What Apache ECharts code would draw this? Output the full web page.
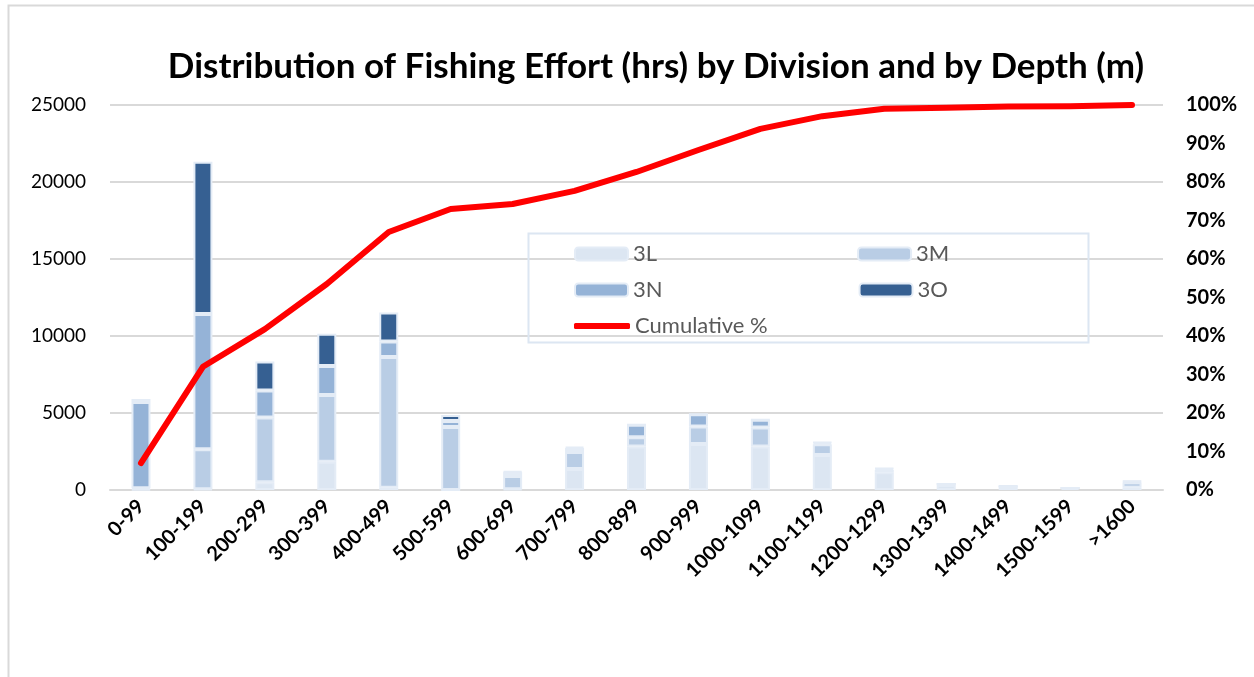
<!DOCTYPE html>
<html>
<head>
<meta charset="utf-8">
<script src="https://cdn.jsdelivr.net/npm/echarts@6/dist/echarts.min.js"></script>
<style>
  html, body { margin: 0; padding: 0; background: #fff; }
  #chart { width: 1254px; height: 677px; }
</style>
</head>
<body>
<div id="chart"></div>
<script>
// depth bands (m)
const depths = ['0-99', '100-199', '200-299', '300-399', '400-499', '500-599', '600-699', '700-799',
  '800-899', '900-999', '1000-1099', '1100-1199', '1200-1299', '1300-1399', '1400-1499', '1500-1599', '>1600']

// effort (hrs) by division
const div3L = [30, 50, 500, 1840, 150, 0, 50, 1365, 2820, 2990, 2820, 2275, 1150, 330, 210, 120, 150]
const div3M = [80, 2600, 4200, 4335, 8480, 4095, 860, 1105, 610, 1130, 1235, 700, 150, 60, 30, 10, 350]
const div3N = [5600, 8780, 1755, 1885, 1010, 390, 250, 260, 800, 800, 500, 100, 80, 0, 0, 0, 60]
const div3O = [200, 9880, 1885, 2080, 1885, 390, 50, 70, 0, 0, 0, 30, 30, 0, 0, 0, 20]

// cumulative share (0..1)
const cumulative = [0.07, 0.32, 0.418, 0.535, 0.67, 0.73, 0.743, 0.777, 0.826, 0.883, 0.938, 0.971, 0.99, 0.993, 0.996, 0.997, 1.0]

const FONT = 'Lato'
const chart = echarts.init(document.getElementById('chart'))

const barSeries = (name, data, color) => ({
  name: name,
  type: 'bar',
  stack: 'effort',
  barWidth: 19,
  data: data,
  itemStyle: { color: color, borderColor: '#e4ecf6', borderWidth: 2 },
  emphasis: { disabled: true }
})

// legend rows, laid out like the original two-column box
const legendRow = (top, data, gap, extra) => Object.assign({
  left: 569,
  top: top,
  itemWidth: 53,
  itemHeight: 13,
  itemGap: gap,
  selectedMode: false,
  textStyle: { fontFamily: FONT, fontSize: 22, color: '#595959' },
  data: data
}, extra || {})

const option = {
  animation: false,
  textStyle: { fontFamily: FONT },
  title: {
    // zero-width non-joiner keeps Lato from fusing "ti"
    text: 'Distribu\u200Ction of Fishing Effort (hrs) by Division and by Depth (m)',
    left: 651,
    top: 44,
    textAlign: 'center',
    textStyle: { fontFamily: FONT, fontSize: 35, fontWeight: 'bold', color: '#000' }
  },
  graphic: [
    {
      type: 'rect',
      shape: { x: 8.5, y: 5.5, width: 1300, height: 700 },
      style: { fill: 'none', stroke: '#d9d9d9', lineWidth: 2 },
      silent: true
    },
    {
      type: 'rect',
      shape: { x: 528.5, y: 233.5, width: 560, height: 109 },
      style: { fill: 'none', stroke: '#dce6f2', lineWidth: 2 },
      silent: true,
      z: 10
    }
  ],
  legend: [
    legendRow(238, ['3L', '3M'], 200),
    legendRow(274, ['3N', '3O'], 196),
    legendRow(310, [{ name: 'Cumulative %', icon: 'roundRect' }], 10, { itemWidth: 56, itemHeight: 6 })
  ],
  grid: {
    left: 110,
    right: 91,
    top: 105,
    bottom: 187
  },
  xAxis: {
    type: 'category',
    data: depths,
    axisTick: { show: false },
    axisLine: { lineStyle: { color: '#d9d9d9', width: 2 } },
    axisLabel: {
      rotate: 45,
      interval: 0,
      margin: 13,
      fontFamily: FONT,
      fontSize: 20,
      fontWeight: 'bold',
      color: '#000'
    }
  },
  yAxis: [
    {
      type: 'value',
      min: 0,
      max: 25000,
      interval: 5000,
      axisLine: { show: false },
      axisTick: { show: false },
      splitLine: { lineStyle: { color: '#d9d9d9', width: 2 } },
      axisLabel: { margin: 24, fontFamily: FONT, fontSize: 19, color: '#000', formatter: v => String(v) }
    },
    {
      type: 'value',
      min: 0,
      max: 1,
      interval: 0.1,
      position: 'right',
      axisLine: { show: false },
      axisTick: { show: false },
      splitLine: { show: false },
      axisLabel: {
        margin: 23,
        fontFamily: FONT,
        fontSize: 20,
        fontWeight: 'bold',
        color: '#000',
        formatter: v => Math.round(v * 100) + '%'
      }
    }
  ],
  series: [
    barSeries('3L', div3L, '#dce6f2'),
    barSeries('3M', div3M, '#b9cde5'),
    barSeries('3N', div3N, '#95b3d7'),
    barSeries('3O', div3O, '#366092'),
    {
      name: 'Cumulative %',
      type: 'line',
      yAxisIndex: 1,
      data: cumulative,
      symbol: 'none',
      z: 5,
      lineStyle: { color: '#ff0000', width: 6, cap: 'round', join: 'round' },
      itemStyle: { color: '#ff0000' }
    }
  ]
}

chart.setOption(option)
</script>
</body>
</html>
